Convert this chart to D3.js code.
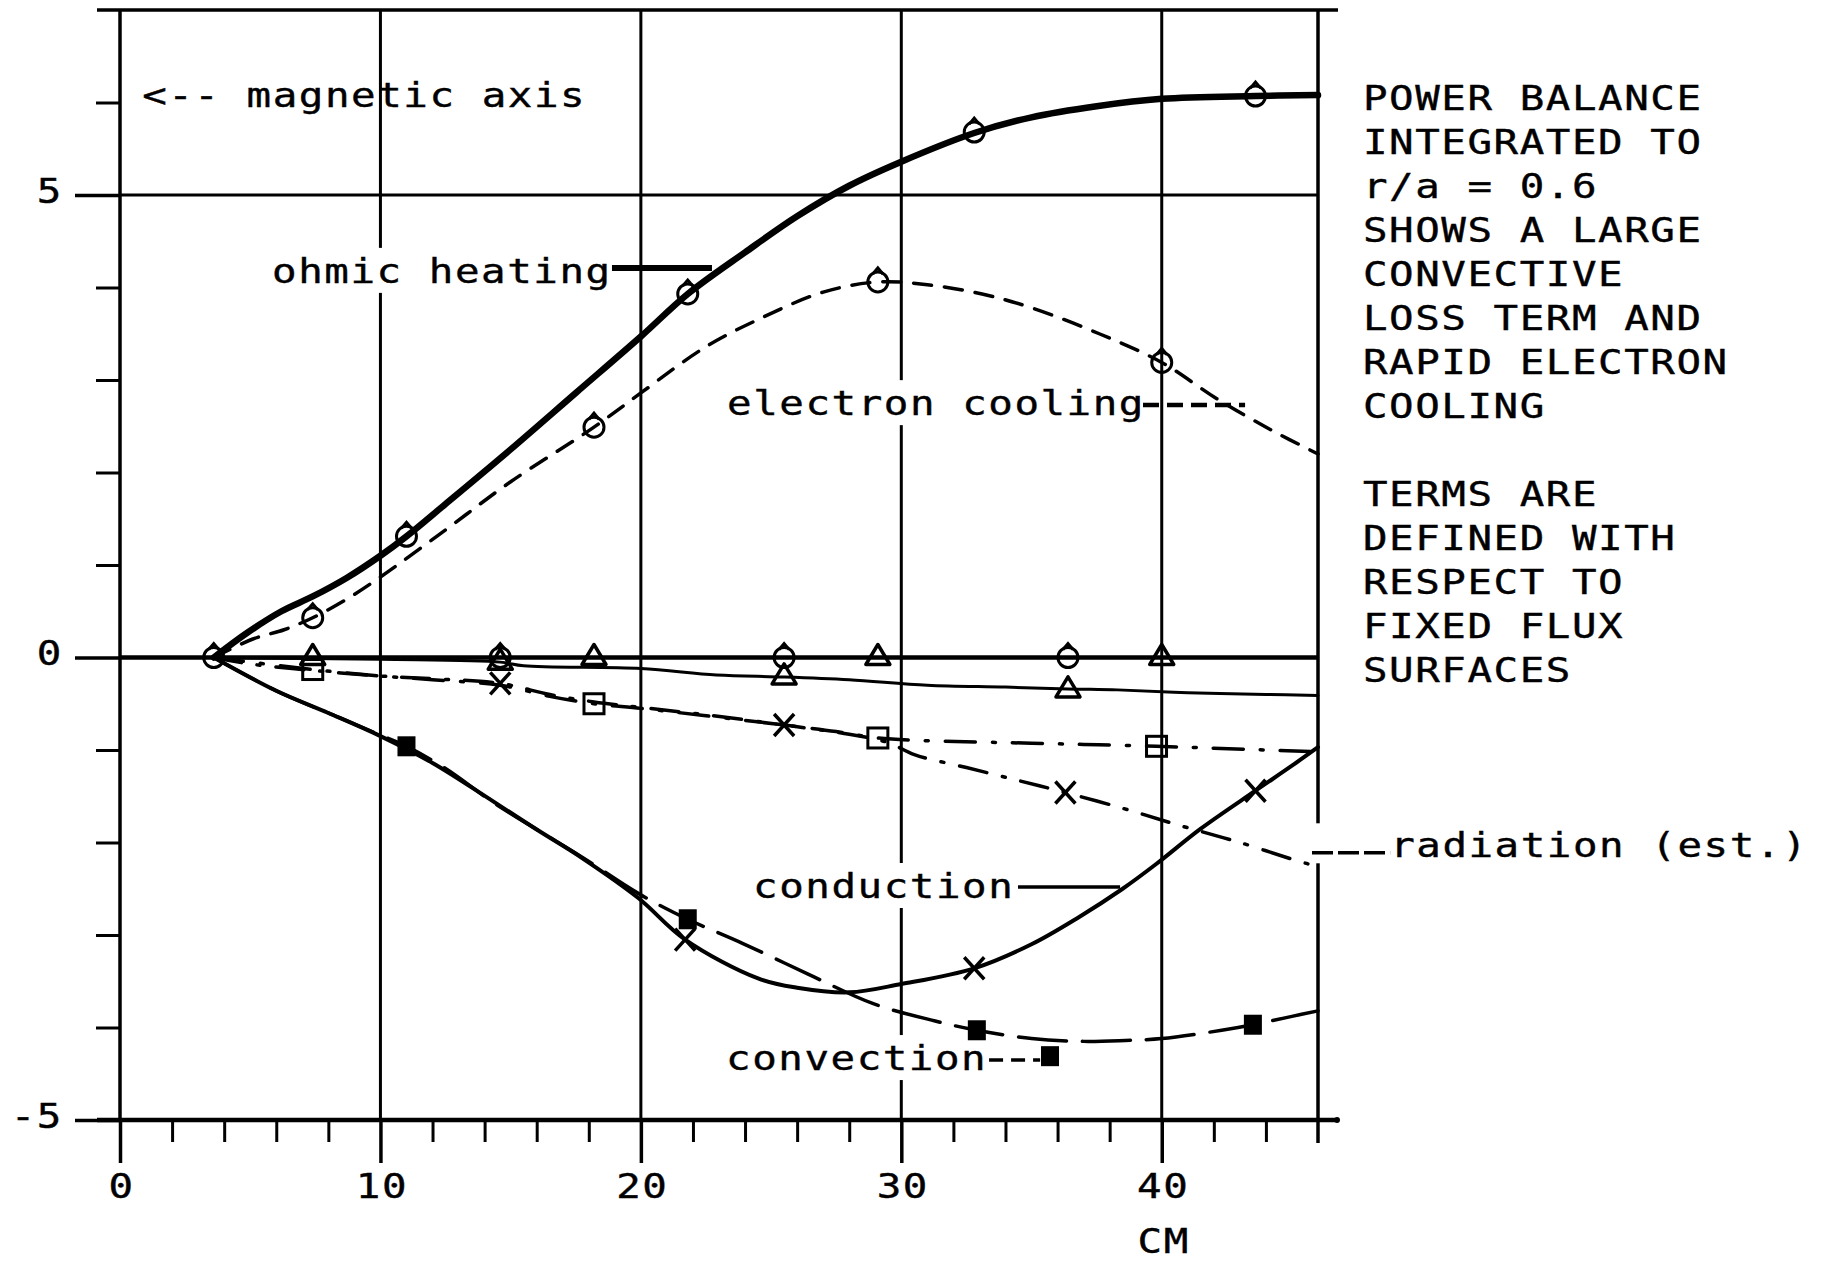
<!DOCTYPE html>
<html>
<head>
<meta charset="utf-8">
<script src="https://cdn.jsdelivr.net/npm/d3@7"></script>
<style>
  body { margin: 0; background: #fff; }
  text { font-family: "DejaVu Sans Mono", monospace; font-size: 34px; letter-spacing: 1.3px; fill: #000; stroke: #000; stroke-width: 0.4px; }
</style>
</head>
<body>
<svg id="chart" width="1821" height="1262"></svg>
<script>
// ticks and grid
var xTicksMajor = [0, 10, 20, 30, 40];
var xTicksMinor = [2, 4, 6, 8, 12, 14, 16, 18, 22, 24, 26, 28, 32, 34, 36, 38, 42, 44];
var yTicksMajor = [-5, 0, 5];
var yTicksMinor = [-4, -3, -2, -1, 1, 2, 3, 4, 6];
var xGrid = [10, 20, 30, 40];
var yGrid = [5, 0];

// curves, [cm, value]
var ohmic = [[3.6,0],[4.9,0.27],[6.2,0.5],[7.4,0.66],[8.7,0.86],[10,1.1],[11,1.31],[12.5,1.66],[15,2.25],
  [17.5,2.86],[20,3.47],[21.8,3.93],[24,4.38],[26,4.77],[28,5.1],[30,5.36],[32.8,5.67],[35,5.84],
  [37.5,5.96],[40,6.04],[43.6,6.07],[46,6.08]];
var electron = [[3.6,0],[5.1,0.2],[6.3,0.3],[7.4,0.43],[8.7,0.63],[10,0.87],[12.5,1.38],[15,1.9],[18.2,2.49],
  [20,2.86],[22.5,3.36],[24.7,3.68],[27,3.95],[29.1,4.06],[31,4.03],[33.1,3.93],[35,3.78],[37.6,3.5],
  [40,3.19],[42.1,2.8],[44.2,2.46],[46,2.2]];
var conduction = [[3.6,0],[6,-0.36],[8,-0.6],[10,-0.85],[12,-1.14],[14.3,-1.55],[16,-1.86],[17.7,-2.16],
  [19.9,-2.6],[21.7,-3.05],[24.5,-3.47],[26,-3.57],[28,-3.62],[30,-3.53],[32.8,-3.36],[35,-3.1],
  [36.8,-2.81],[38.5,-2.5],[39.8,-2.23],[41.5,-1.85],[43.6,-1.44],[45,-1.17],[46,-0.97]];
var convection = [[3.6,0],[6,-0.36],[8,-0.6],[10,-0.84],[11,-0.96],[12.5,-1.2],[14.3,-1.56],[16,-1.86],
  [17.7,-2.15],[19.9,-2.55],[21.8,-2.83],[23.9,-3.09],[26.4,-3.42],[28.9,-3.74],[31.3,-3.93],[32.9,-4.03],
  [35,-4.12],[37,-4.15],[38.6,-4.14],[40,-4.12],[42.3,-4.03],[43.5,-3.97],[45,-3.88],[46,-3.82]];
var radiation = [[3.6,0],[5,-0.07],[7.4,-0.14],[10,-0.2],[12,-0.23],[14.6,-0.28],[16.5,-0.4],[18.2,-0.48],
  [20,-0.54],[22.5,-0.62],[25.5,-0.73],[28,-0.83],[29.5,-0.92],[30.5,-1.05],[32.5,-1.19],[34.5,-1.33],
  [36.3,-1.46],[38.5,-1.63],[40.5,-1.8],[43,-2.0],[45.6,-2.23],[46,-2.25]];
var squareTerm = [[3.6,0],[7.4,-0.13],[10,-0.2],[12,-0.24],[14.6,-0.3],[16.5,-0.42],[18.2,-0.5],[20,-0.55],
  [22.5,-0.63],[25.5,-0.73],[27.5,-0.8],[29.1,-0.87],[31,-0.9],[34,-0.92],[37,-0.94],[39.8,-0.96],
  [42,-0.98],[44,-1.0],[46,-1.02]];
var smallTerm = [[3.6,0],[10,-0.02],[14.6,-0.05],[15.5,-0.09],[20,-0.12],[22.9,-0.19],[25.5,-0.21],
  [28,-0.24],[31,-0.3],[34,-0.32],[36.4,-0.34],[38.3,-0.35],[41,-0.38],[44,-0.4],[46,-0.41]];

// markers, [cm, value]
var ohmicMarks = [[3.6,0],[11,1.31],[21.8,3.93],[32.8,5.68],[43.6,6.07]];
var electronMarks = [[7.4,0.43],[18.2,2.49],[29.1,4.06],[40,3.19]];
var conductionMarks = [[21.7,-3.05],[32.8,-3.36],[43.6,-1.44]];
var convectionMarks = [[11,-0.96],[21.8,-2.83],[32.9,-4.03],[43.5,-3.97]];
var radiationMarks = [[14.6,-0.28],[25.5,-0.73],[36.3,-1.46]];
var squareMarks = [[7.4,-0.13],[18.2,-0.5],[29.1,-0.87],[39.8,-0.96]];
var zeroTriMarks = [[7.4,0],[18.2,0],[29.1,0],[40,0]];
var zeroCircMarks = [[14.6,0],[25.5,0],[36.4,0]];
var smallMarks = [[14.6,-0.05],[25.5,-0.21],[36.4,-0.35]];

var noteLines = ["POWER BALANCE", "INTEGRATED TO", "r/a = 0.6", "SHOWS A LARGE", "CONVECTIVE",
  "LOSS TERM AND", "RAPID ELECTRON", "COOLING", "", "TERMS ARE", "DEFINED WITH",
  "RESPECT TO", "FIXED FLUX", "SURFACES"];

var ink = "#000";
var charW = 26.15;
var stretch = " scale(1.2,1)";   // plotter glyphs are wider than the font's

var svg = d3.select("#chart");
svg.append("rect").attr("width", 1821).attr("height", 1262).attr("fill", "#fff");

var x = d3.scaleLinear().domain([0, 46]).range([120, 1318]);
var y = d3.scaleLinear().domain([-5, 7]).range([1120, 10]);

function at(px, py) { return "translate(" + px + "," + py + ")" + stretch; }

// grid and frame
var grid = svg.append("g").attr("stroke", ink).attr("fill", "none");
grid.selectAll(".vg").data(xGrid).enter().append("line")
    .attr("x1", d => x(d)).attr("x2", d => x(d))
    .attr("y1", y(7)).attr("y2", y(-5))
    .attr("stroke-width", 3);
grid.selectAll(".hg").data(yGrid).enter().append("line")
    .attr("x1", x(0)).attr("x2", x(46))
    .attr("y1", d => y(d)).attr("y2", d => y(d))
    .attr("stroke-width", d => d === 0 ? 4.5 : 3);
grid.append("line").attr("x1", x(0) - 23).attr("x2", x(46) + 20)
    .attr("y1", y(7)).attr("y2", y(7)).attr("stroke-width", 3.5);
grid.append("line").attr("x1", x(46)).attr("x2", x(46))
    .attr("y1", y(7)).attr("y2", y(-5) + 23).attr("stroke-width", 3.5);
grid.append("line").attr("x1", x(0)).attr("x2", x(0))
    .attr("y1", y(7)).attr("y2", y(-5)).attr("stroke-width", 3.5);
grid.append("line").attr("x1", x(0) - 23).attr("x2", x(46) + 17)
    .attr("y1", y(-5)).attr("y2", y(-5)).attr("stroke-width", 4.5);
svg.append("circle").attr("cx", x(46) + 19).attr("cy", y(-5)).attr("r", 3).attr("fill", ink);

// axes
function cleanAxis(g, w) {
    g.select(".domain").remove();
    g.attr("font-size", null).attr("font-family", null);
    g.selectAll("line").attr("stroke", ink).attr("stroke-width", w);
}
var gxm = svg.append("g").attr("transform", "translate(0," + y(-5) + ")")
    .call(d3.axisBottom(x).tickValues(xTicksMinor).tickSize(22).tickFormat(""));
cleanAxis(gxm, 3);
var gx = svg.append("g").attr("transform", "translate(0," + y(-5) + ")")
    .call(d3.axisBottom(x).tickValues(xTicksMajor).tickSize(43).tickFormat(d => String(d)));
cleanAxis(gx, 3.5);
gx.selectAll("text").attr("y", null).attr("dy", null).attr("transform", at(1, 78));

var gym = svg.append("g").attr("transform", "translate(" + x(0) + ",0)")
    .call(d3.axisLeft(y).tickValues(yTicksMinor).tickSize(24).tickFormat(""));
cleanAxis(gym, 3);
var gy = svg.append("g").attr("transform", "translate(" + x(0) + ",0)")
    .call(d3.axisLeft(y).tickValues(yTicksMajor).tickSize(45).tickFormat(d => String(d)));
cleanAxis(gy, 3.5);
gy.selectAll("text").attr("x", null).attr("dy", null).attr("transform", at(-57, 7));

svg.append("text").attr("transform", at(x(40) + 2, 1253)).attr("text-anchor", "middle").text("CM");

// labels inside the plot (positions in data units)
var labels = [
    {text: "<-- magnetic axis", x: 0.85, y: 5.95, bg: false},
    {text: "ohmic heating", x: 5.84, y: 4.05, bg: true},
    {text: "electron cooling", x: 23.31, y: 2.62, bg: true},
    {text: "conduction", x: 24.31, y: -2.6, bg: true},
    {text: "convection", x: 23.27, y: -4.46, bg: true},
    {text: "radiation (est.)", x: 48.77, y: -2.16, bg: true}
];
var pointers = [
    {x1: 18.89, x2: 22.73, y: 4.21, w: 6, dash: null},
    {x1: 39.28, x2: 43.2, y: 2.73, w: 4.5, dash: "16,8"},
    {x1: 34.48, x2: 38.4, y: -2.48, w: 3.5, dash: null},
    {x1: 33.37, x2: 35.33, y: -4.35, w: 3.5, dash: "14,8"},
    {x1: 45.77, x2: 48.77, y: -2.11, w: 3.5, dash: "21,5"}
];
var labelMark = [[35.71, -4.31]];

svg.append("g").selectAll("rect").data(labels.filter(d => d.bg)).enter().append("rect")
    .attr("x", d => x(d.x) - 6)
    .attr("y", d => y(d.y) - 35)
    .attr("width", d => d.text.length * charW + 6)
    .attr("height", 45)
    .attr("fill", "#fff");
// gap in the right frame where the radiation label sits
svg.append("rect").attr("x", x(45.77) - 8).attr("y", y(-2.16) - 34)
    .attr("width", x(48.77) - x(45.77) + 8).attr("height", 40).attr("fill", "#fff");

// curves
var line = d3.line()
    .x(d => x(d[0]))
    .y(d => y(d[1]))
    .curve(d3.curveCatmullRom.alpha(0.5));

var curves = [
    {data: smallTerm, w: 3, dash: null},
    {data: squareTerm, w: 3.5, dash: "30,17,3,17"},
    {data: radiation, w: 3.5, dash: "28,16,3,16"},
    {data: convection, w: 3.5, dash: "48,16"},
    {data: conduction, w: 4, dash: null},
    {data: electron, w: 3.5, dash: "18,13"},
    {data: ohmic, w: 6.5, dash: null}
];
svg.append("g").selectAll("path").data(curves).enter().append("path")
    .attr("d", d => line(d.data))
    .attr("fill", "none")
    .attr("stroke", ink)
    .attr("stroke-width", d => d.w)
    .attr("stroke-dasharray", d => d.dash)
    .attr("stroke-linecap", "round")
    .attr("stroke-linejoin", "round");

// markers
function drawMarks(pts, shape) {
    var g = svg.append("g").selectAll("g").data(pts).enter().append("g")
        .attr("transform", d => "translate(" + x(d[0]) + "," + y(d[1]) + ")");
    shape(g);
}
function hexShape(g) {
    g.append("circle").attr("r", 10).attr("fill", "none").attr("stroke", ink).attr("stroke-width", 3);
    g.append("path").attr("d", "M-5,-8L0,-14L5,-8").attr("fill", "none")
        .attr("stroke", ink).attr("stroke-width", 3);
}
function triShape(g) {
    g.append("path").attr("d", "M0,-13L12,7L-12,7Z").attr("fill", "none")
        .attr("stroke", ink).attr("stroke-width", 3.5).attr("stroke-linejoin", "round");
}
function openSquare(g) {
    g.append("rect").attr("x", -10).attr("y", -10).attr("width", 20).attr("height", 20)
        .attr("fill", "none").attr("stroke", ink).attr("stroke-width", 3);
}
function filledSquare(g) {
    g.append("rect").attr("x", -9).attr("y", -10).attr("width", 18).attr("height", 20).attr("fill", ink);
}
function crossShape(g) {
    g.append("path").attr("d", "M-10,-11L10,11M10,-11L-10,11").attr("fill", "none")
        .attr("stroke", ink).attr("stroke-width", 3.5);
}

drawMarks(smallMarks, triShape);
drawMarks(zeroTriMarks, triShape);
drawMarks(zeroCircMarks, hexShape);
drawMarks(squareMarks, openSquare);
drawMarks(radiationMarks, crossShape);
drawMarks(conductionMarks, crossShape);
drawMarks(convectionMarks, filledSquare);
drawMarks(electronMarks, hexShape);
drawMarks(ohmicMarks, hexShape);
drawMarks(labelMark, filledSquare);

// label text and pointers
svg.append("g").selectAll("line").data(pointers).enter().append("line")
    .attr("x1", d => x(d.x1)).attr("x2", d => x(d.x2))
    .attr("y1", d => y(d.y)).attr("y2", d => y(d.y))
    .attr("stroke", ink)
    .attr("stroke-width", d => d.w)
    .attr("stroke-dasharray", d => d.dash);

svg.append("g").selectAll("text").data(labels).enter().append("text")
    .attr("transform", d => at(x(d.x), y(d.y)))
    .text(d => d.text);

// note block on the right
svg.append("g").selectAll("text").data(noteLines).enter().append("text")
    .attr("transform", (d, i) => at(1363, 110 + 44 * i))
    .text(d => d);
</script>
</body>
</html>
